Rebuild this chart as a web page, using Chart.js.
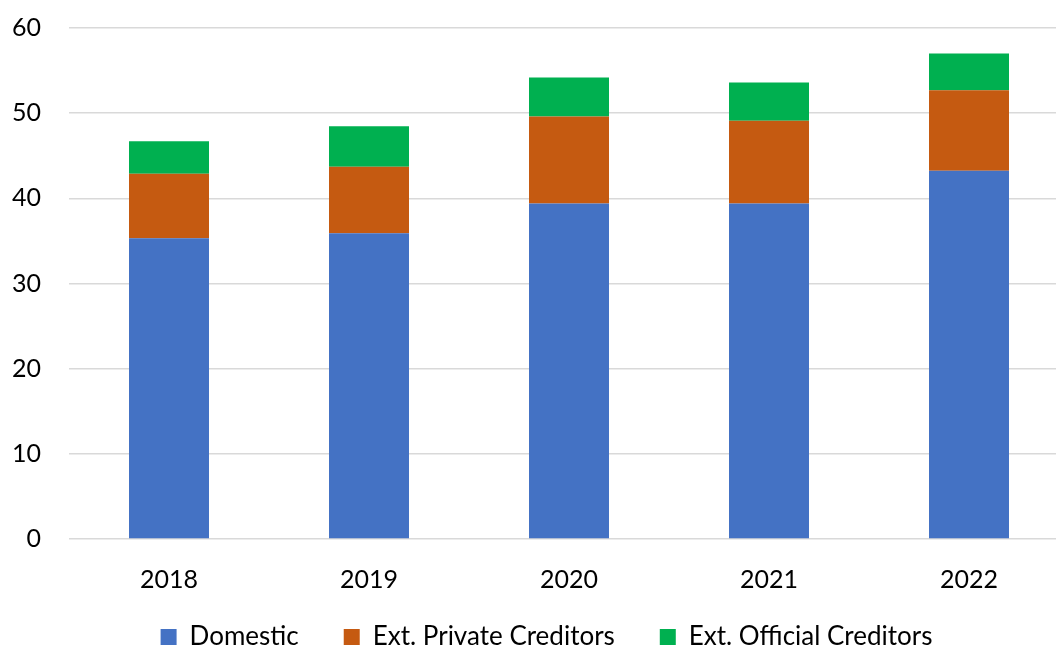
<!DOCTYPE html>
<html>
<head>
<meta charset="utf-8">
<script src="https://cdn.jsdelivr.net/npm/chart.js@4.4.1/dist/chart.umd.min.js"></script>
<style>
  html, body { margin: 0; padding: 0; background: #fff; overflow: hidden; }
  #wrap { width: 1081px; height: 649px; position: relative; }
</style>
</head>
<body>
<div id="wrap"><canvas id="debtChart"></canvas></div>
<script>
const years = ["2018", "2019", "2020", "2021", "2022"];
const domestic = [35.3, 35.9, 39.4, 39.4, 43.25];
const extPrivate = [7.6, 7.8, 10.2, 9.7, 9.45];
const extOfficial = [3.8, 4.75, 4.6, 4.5, 4.3];
const yTicks = [0, 10, 20, 30, 40, 50, 60];

const tickFont = { family: "Lato", size: 25 };
const legendFont = { family: "Lato", size: 26 };

// legend keeps wide gaps between items but starts a bit higher, over the year labels' box
const liftLegend = {
  id: "liftLegend",
  afterLayout(chart) {
    chart.legend.top -= 16;
    chart.legend.height += 16;
  }
};

new Chart(document.getElementById("debtChart"), {
  type: "bar",
  data: {
    labels: years,
    datasets: [
      { label: "Domestic", data: domestic, backgroundColor: "#4472C4" },
      { label: "Ext. Private Creditors", data: extPrivate, backgroundColor: "#C55A11" },
      { label: "Ext. Official Creditors", data: extOfficial, backgroundColor: "#00B050" }
    ]
  },
  plugins: [liftLegend],
  options: {
    responsive: true,
    maintainAspectRatio: false,
    animation: false,
    datasets: { bar: { categoryPercentage: 1, barPercentage: 0.4, borderWidth: 0 } },
    layout: { padding: { left: 12, top: 0, right: 0, bottom: 0 } },
    plugins: {
      tooltip: { enabled: false },
      legend: {
        position: "bottom",
        maxHeight: 54,
        labels: {
          color: "#000",
          font: legendFont,
          boxWidth: 16,
          boxHeight: 16,
          padding: 45
        }
      }
    },
    scales: {
      x: {
        stacked: true,
        grid: { display: false, drawTicks: false },
        border: { display: false },
        ticks: { color: "#000", font: tickFont, padding: 26 },
        afterFit: s => { s.height = 56; }
      },
      y: {
        stacked: true,
        min: 0,
        max: 60,
        afterBuildTicks: s => { s.ticks = yTicks.map(v => ({ value: v })); },
        afterFit: s => { s.width = 57; s.paddingTop = 28; },
        grid: { color: "#d9d9d9", lineWidth: 1.5, drawTicks: false },
        border: { display: false },
        ticks: { color: "#000", font: tickFont, padding: 28 }
      },
      y2: {
        type: "linear",
        position: "right",
        grid: { display: false },
        border: { display: false },
        ticks: { display: false },
        afterFit: s => { s.width = 12; }
      }
    }
  }
});
</script>
</body>
</html>
